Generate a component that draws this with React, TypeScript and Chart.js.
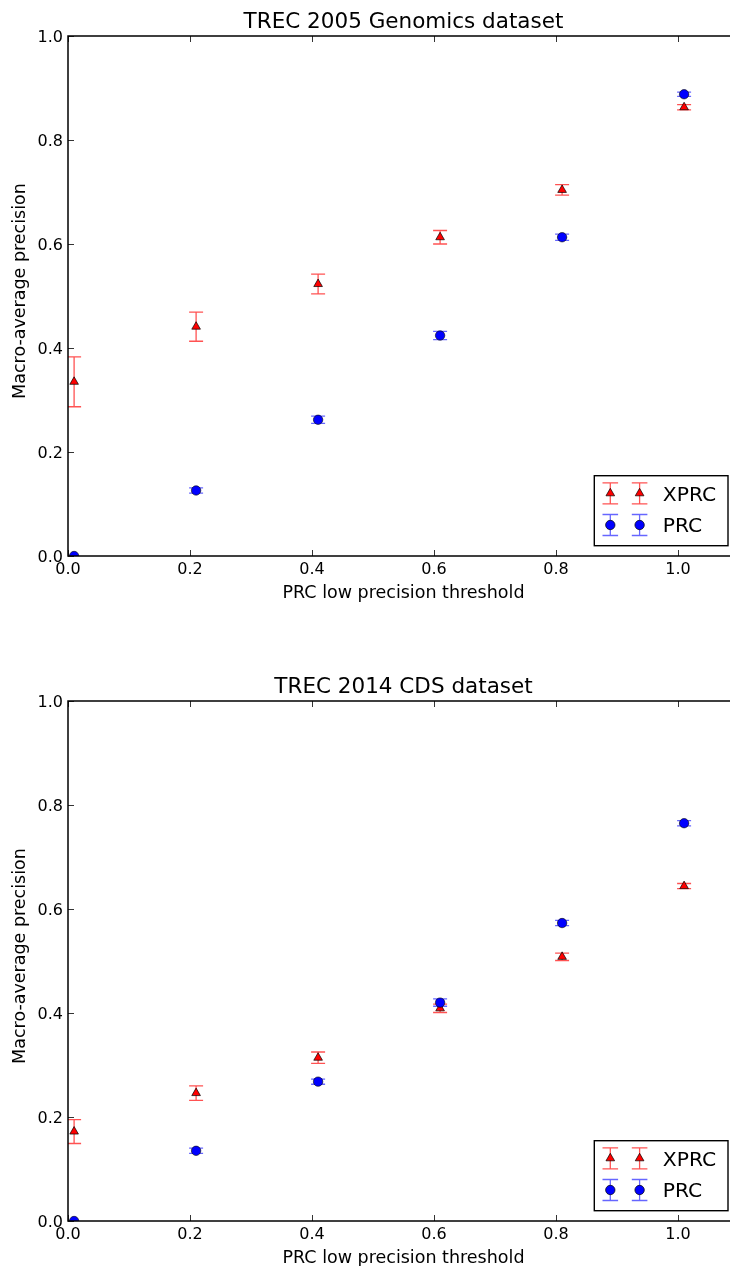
import React, { useEffect, useRef } from 'react';
import { Chart, registerables } from 'chart.js';

Chart.register(...registerables);

// ---------- data ----------
const thresholds = [0.01, 0.21, 0.41, 0.61, 0.81, 1.01];
const xTickValues = [0.0, 0.2, 0.4, 0.6, 0.8, 1.0];
const yTickValues = [0.0, 0.2, 0.4, 0.6, 0.8, 1.0];
const seriesNames = ['XPRC', 'PRC'];

const genomicsTitle = 'TREC 2005 Genomics dataset';
const genomicsXprc = [0.335, 0.441, 0.523, 0.613, 0.704, 0.863];
const genomicsXprcErr = [0.048, 0.028, 0.019, 0.013, 0.01, 0.005];
const genomicsPrc = [0.0, 0.126, 0.262, 0.424, 0.613, 0.888];
const genomicsPrcErr = [0.0, 0.005, 0.007, 0.008, 0.006, 0.004];

const cdsTitle = 'TREC 2014 CDS dataset';
const cdsXprc = [0.172, 0.246, 0.314, 0.409, 0.508, 0.644];
const cdsXprcErr = [0.023, 0.014, 0.011, 0.008, 0.007, 0.005];
const cdsPrc = [0.0, 0.135, 0.268, 0.42, 0.573, 0.765];
const cdsPrcErr = [0.0, 0.005, 0.005, 0.007, 0.005, 0.005];

const xLabel = 'PRC low precision threshold';
const yLabel = 'Macro-average precision';

// ---------- style ----------
const FONT = '"DejaVu Sans", sans-serif';
const RED = '#ff0000';
const BLUE = '#0000ff';
const RED_ERR = 'rgba(255,0,0,0.68)';
const BLUE_ERR = 'rgba(0,0,255,0.6)';
const CAP = 7;
const VIEW_W = 730;
const CANVAS_W = 739; // plot frame continues past the picture's right edge
const AREA_LEFT = 68;
const AREA_TOP = 36;
const AREA_BOTTOM = 556;

type Series = {
  name: string;
  values: number[];
  errs: number[];
  color: string;
  errColor: string;
  style: 'triangle' | 'circle';
};

function drawMarker(ctx: CanvasRenderingContext2D, style: string, x: number, y: number, color: string) {
  ctx.save();
  ctx.fillStyle = color;
  ctx.strokeStyle = '#000';
  ctx.lineWidth = 0.7;
  ctx.beginPath();
  if (style === 'triangle') {
    const r = 5;
    let rad = 0;
    ctx.moveTo(x + Math.sin(rad) * r, y - Math.cos(rad) * r);
    rad += (2 * Math.PI) / 3;
    ctx.lineTo(x + Math.sin(rad) * r, y - Math.cos(rad) * r);
    rad += (2 * Math.PI) / 3;
    ctx.lineTo(x + Math.sin(rad) * r, y - Math.cos(rad) * r);
    ctx.closePath();
  } else {
    ctx.arc(x, y, 4.7, 0, Math.PI * 2);
  }
  ctx.fill();
  ctx.stroke();
  ctx.restore();
}

function makeDecor(title: string, series: Series[]) {
  return {
    id: 'mplDecor',
    beforeDatasetsDraw(chart: any) {
      const { ctx, chartArea: a } = chart;
      const x = chart.scales.x;
      const y = chart.scales.y;
      ctx.save();
      ctx.beginPath();
      ctx.rect(a.left, a.top, a.right - a.left, a.bottom - a.top);
      ctx.clip();
      for (const s of series) {
        ctx.strokeStyle = s.errColor;
        ctx.lineWidth = 1.3;
        s.values.forEach((v, i) => {
          const e = s.errs[i];
          if (!e) return;
          const px = x.getPixelForValue(thresholds[i]);
          const y0 = y.getPixelForValue(v - e);
          const y1 = y.getPixelForValue(v + e);
          ctx.beginPath();
          ctx.moveTo(px, y0);
          ctx.lineTo(px, y1);
          ctx.moveTo(px - CAP, y0);
          ctx.lineTo(px + CAP, y0);
          ctx.moveTo(px - CAP, y1);
          ctx.lineTo(px + CAP, y1);
          ctx.stroke();
        });
      }
      ctx.restore();
    },
    afterDraw(chart: any) {
      const { ctx, chartArea: a } = chart;
      const x = chart.scales.x;
      const y = chart.scales.y;
      ctx.save();
      // spines
      ctx.strokeStyle = '#000';
      ctx.lineWidth = 1.5;
      ctx.strokeRect(a.left, a.top, a.right - a.left, a.bottom - a.top);
      // ticks (inward, all sides)
      ctx.lineWidth = 0.8;
      ctx.beginPath();
      for (const t of xTickValues) {
        const px = Math.round(x.getPixelForValue(t)) + 0.5;
        ctx.moveTo(px, a.bottom);
        ctx.lineTo(px, a.bottom - 6);
        ctx.moveTo(px, a.top);
        ctx.lineTo(px, a.top + 6);
      }
      for (const t of yTickValues) {
        const py = Math.round(y.getPixelForValue(t)) + 0.5;
        ctx.moveTo(a.left, py);
        ctx.lineTo(a.left + 6, py);
        ctx.moveTo(a.right, py);
        ctx.lineTo(a.right - 6, py);
      }
      ctx.stroke();
      // tick labels
      ctx.fillStyle = '#000';
      ctx.font = `16px ${FONT}`;
      ctx.textBaseline = 'alphabetic';
      ctx.textAlign = 'center';
      for (const t of xTickValues) {
        ctx.fillText(t.toFixed(1), x.getPixelForValue(t), a.bottom + 18);
      }
      ctx.textAlign = 'right';
      for (const t of yTickValues) {
        ctx.fillText(t.toFixed(1), a.left - 5, y.getPixelForValue(t) + 5.8);
      }
      // title
      ctx.textAlign = 'center';
      ctx.font = `21.5px ${FONT}`;
      ctx.fillText(title, (a.left + a.right) / 2, a.top - 7.7);
      // x label
      ctx.font = `17.5px ${FONT}`;
      ctx.fillText(xLabel, (a.left + a.right) / 2, a.bottom + 41.7);
      // y label
      ctx.save();
      ctx.translate(25, (a.top + a.bottom) / 2 - 5);
      ctx.rotate(-Math.PI / 2);
      ctx.fillText(yLabel, 0, 0);
      ctx.restore();
      // legend
      const lw = 133.7;
      const lh = 70;
      const lx = a.right - 11 - lw;
      const ly = a.bottom - 10.3 - lh;
      ctx.fillStyle = '#fff';
      ctx.fillRect(lx, ly, lw, lh);
      ctx.strokeStyle = '#000';
      ctx.lineWidth = 1.4;
      ctx.strokeRect(lx, ly, lw, lh);
      const rows = [ly + 17.6, ly + 49.3];
      series.forEach((s, r) => {
        const cy = rows[r];
        for (const mx of [lx + 16, lx + 45.3]) {
          ctx.strokeStyle = s.errColor;
          ctx.lineWidth = 1.3;
          ctx.beginPath();
          ctx.moveTo(mx, cy - 10.5);
          ctx.lineTo(mx, cy + 10.5);
          ctx.moveTo(mx - 7.8, cy - 10.5);
          ctx.lineTo(mx + 7.8, cy - 10.5);
          ctx.moveTo(mx - 7.8, cy + 10.5);
          ctx.lineTo(mx + 7.8, cy + 10.5);
          ctx.stroke();
          drawMarker(ctx, s.style, mx, cy, s.color);
        }
        ctx.fillStyle = '#000';
        ctx.textAlign = 'left';
        ctx.font = `20.3px ${FONT}`;
        ctx.fillText(s.name, lx + 68.5, cy + 7.2);
      });
      ctx.restore();
    },
  };
}

type PlotProps = {
  title: string;
  xprc: number[];
  xprcErr: number[];
  prc: number[];
  prcErr: number[];
  height: number;
  top: number;
};

function Plot({ title, xprc, xprcErr, prc, prcErr, height, top }: PlotProps) {
  const ref = useRef<HTMLCanvasElement | null>(null);
  useEffect(() => {
    const canvas = ref.current;
    if (!canvas) return;
    const series: Series[] = [
      { name: seriesNames[0], values: xprc, errs: xprcErr, color: RED, errColor: RED_ERR, style: 'triangle' },
      { name: seriesNames[1], values: prc, errs: prcErr, color: BLUE, errColor: BLUE_ERR, style: 'circle' },
    ];
    const chart = new Chart(canvas, {
      type: 'scatter',
      data: {
        datasets: [
          {
            label: seriesNames[1],
            data: thresholds.map((t, i) => ({ x: t, y: prc[i] })),
            pointStyle: 'circle',
            pointRadius: 4.7,
            pointBackgroundColor: BLUE,
            pointBorderColor: '#000',
            pointBorderWidth: 0.6,
            clip: 0,
          },
          {
            label: seriesNames[0],
            data: thresholds.map((t, i) => ({ x: t, y: xprc[i] })),
            pointStyle: 'triangle',
            pointRadius: 5,
            pointBackgroundColor: RED,
            pointBorderColor: '#000',
            pointBorderWidth: 0.7,
            clip: 0,
          },
        ],
      },
      options: {
        animation: false,
        responsive: false,
        devicePixelRatio: 1,
        events: [],
        layout: { autoPadding: false, padding: { top: AREA_TOP, left: 0, right: 0, bottom: 0 } },
        plugins: { legend: { display: false }, tooltip: { enabled: false }, title: { display: false } },
        scales: {
          x: {
            type: 'linear',
            position: 'bottom',
            min: 0,
            max: 1.1,
            grid: { display: false },
            border: { display: false },
            ticks: { display: false },
            afterBuildTicks: (s: any) => {
              s.ticks = xTickValues.map((v) => ({ value: v }));
            },
            afterFit: (s: any) => {
              s.height = height - AREA_BOTTOM;
            },
          },
          y: {
            type: 'linear',
            position: 'left',
            min: 0,
            max: 1,
            grid: { display: false },
            border: { display: false },
            ticks: { display: false },
            afterBuildTicks: (s: any) => {
              s.ticks = yTickValues.map((v) => ({ value: v }));
            },
            afterFit: (s: any) => {
              s.width = AREA_LEFT;
            },
          },
        },
      },
      plugins: [makeDecor(title, series)],
    } as any);
    return () => chart.destroy();
  }, [title, xprc, xprcErr, prc, prcErr, height]);

  return (
    <canvas
      ref={ref}
      width={CANVAS_W}
      height={height}
      style={{ position: 'absolute', left: 0, top, width: CANVAS_W, height, display: 'block' }}
    />
  );
}

export default function App() {
  useEffect(() => {
    document.body.style.margin = '0';
    document.body.style.background = '#fff';
    document.body.style.overflow = 'hidden';
  }, []);
  return (
    <div style={{ position: 'relative', width: VIEW_W, height: 1266, overflow: 'hidden', background: '#fff' }}>
      <Plot title={genomicsTitle} xprc={genomicsXprc} xprcErr={genomicsXprcErr} prc={genomicsPrc} prcErr={genomicsPrcErr} height={665} top={0} />
      <Plot title={cdsTitle} xprc={cdsXprc} xprcErr={cdsXprcErr} prc={cdsPrc} prcErr={cdsPrcErr} height={601} top={665} />
    </div>
  );
}
